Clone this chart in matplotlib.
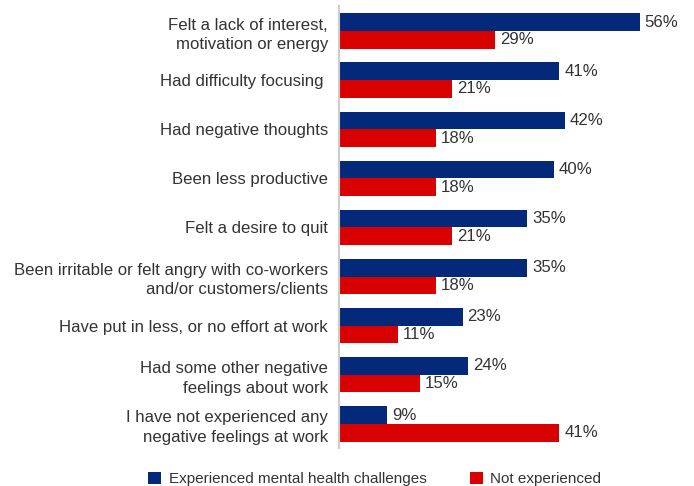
import matplotlib.pyplot as plt
import numpy as np

plt.rcParams['font.family'] = ['Liberation Sans', 'DejaVu Sans']

categories = [
    "Felt a lack of interest,\nmotivation or energy",
    "Had difficulty focusing ",
    "Had negative thoughts",
    "Been less productive",
    "Felt a desire to quit",
    "Been irritable or felt angry with co-workers\nand/or customers/clients",
    "Have put in less, or no effort at work",
    "Had some other negative\nfeelings about work",
    "I have not experienced any\nnegative feelings at work",
]
experienced = [56, 41, 42, 40, 35, 35, 23, 24, 9]
not_experienced = [29, 21, 18, 18, 21, 18, 11, 15, 41]
series_names = ["Experienced mental health challenges", "Not experienced"]

blue = '#05297A'
red = '#D90000'
text_color = '#333333'

fig = plt.figure(figsize=(6.94, 4.86), dpi=100)
ax = fig.add_axes([0.4885, 0.0772, 0.48, 0.9095])

y = np.arange(len(categories))
h = 0.36
b1 = ax.barh(y - h / 2, experienced, height=h, color=blue, label=series_names[0])
b2 = ax.barh(y + h / 2, not_experienced, height=h, color=red, label=series_names[1])

# value labels just past the end of each bar
for bars, vals in ((b1, experienced), (b2, not_experienced)):
    for bar, v in zip(bars, vals):
        ax.text(bar.get_width() + 0.9, bar.get_y() + bar.get_height() / 2,
                f"{v}%", va='center', ha='left', fontsize=12.1, color=text_color)

ax.set_xlim(0, 62)
ax.set_ylim(len(categories) - 0.5, -0.5)
ax.set_yticks(y)
ax.set_yticklabels(categories, fontsize=12.1, color=text_color, ha='right',
                   linespacing=1.35)
ax.tick_params(axis='y', length=0, pad=8)
ax.set_xticks([])

for side in ('top', 'right', 'bottom'):
    ax.spines[side].set_visible(False)
ax.spines['left'].set_color('#cccccc')
ax.spines['left'].set_linewidth(1.5)

fig.legend(handles=[b1, b2], labels=series_names, loc='center',
           bbox_to_anchor=(0.54, 0.014), ncol=2, frameon=False,
           fontsize=11, handlelength=0.85, handleheight=0.85,
           handletextpad=0.5, columnspacing=2.8, borderpad=0,
           labelcolor=text_color)

fig.savefig('out.png', dpi=100)
